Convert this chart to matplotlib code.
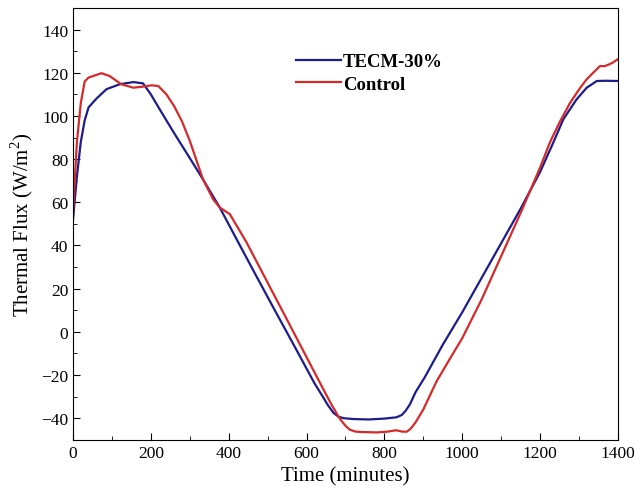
import numpy as np
import matplotlib.pyplot as plt

plt.rcParams['font.family'] = 'Liberation Serif'
plt.rcParams['mathtext.fontset'] = 'custom'
plt.rcParams['mathtext.rm'] = 'Liberation Serif'

# TECM-30% curve
tecm_t = [0, 5, 10, 20, 30, 40, 60, 86, 120, 155, 180, 200, 223, 260, 300, 334, 377,
          420, 472, 520, 570, 621, 640, 655, 669, 682, 695, 720, 760, 800, 831, 845,
          855, 866, 880, 904, 950, 1000, 1050, 1100, 1150, 1200, 1230, 1260, 1294,
          1320, 1346, 1370, 1400]
tecm_q = [52, 62, 72, 88, 98, 104, 108, 112.4, 114.7, 115.7, 115.1, 110, 103, 92,
          80.5, 70.6, 57.6, 43, 25.5, 9.5, -7, -24, -29.5, -34, -37.5, -39.3, -40,
          -40.4, -40.6, -40.2, -39.6, -38.5, -36.5, -33.5, -28, -21, -6, 9, 25, 41,
          57, 74, 86, 98.5, 107.7, 113.1, 116.2, 116.3, 116.2]

# Control curve
ctrl_t = [0, 5, 10, 20, 30, 40, 73, 94, 124, 155, 180, 202, 219, 240, 260, 280, 300,
          320, 334, 360, 377, 403, 446, 500, 550, 600, 640, 665, 686, 700, 711, 725,
          740, 780, 810, 830, 845, 857, 867, 880, 900, 934, 970, 1000, 1050, 1100,
          1150, 1200, 1226, 1250, 1277, 1303, 1320, 1337, 1354, 1367, 1385, 1400]
ctrl_q = [55, 72, 88, 106, 116, 117.8, 119.8, 118.5, 114.7, 113.1, 113.6, 114.2,
          113.9, 110, 104.5, 97.5, 88.5, 78, 70.6, 61.4, 57.6, 54.5, 41.4, 22.8,
          5.6, -11.7, -25.5, -34, -40.4, -43.5, -45.3, -46.2, -46.4, -46.6, -46.2,
          -45.6, -46.2, -46.3, -45, -42, -36, -23, -12, -3, 15, 35, 55, 76, 88, 97,
          106, 113, 117, 120.1, 123.1, 123.1, 124.5, 126.3]

fig = plt.figure(figsize=(6.35, 5.02), dpi=100)
ax = fig.add_axes([0.115, 0.122, 0.858, 0.86])

ax.plot(tecm_t, tecm_q, color='#1c1c8c', lw=1.6, label='TECM-30%')
ax.plot(ctrl_t, ctrl_q, color='#d42a2a', lw=1.6, label='Control')

ax.set_xlim(0, 1400)
ax.set_ylim(-50, 150)
ax.set_xticks(np.arange(0, 1401, 200))
ax.set_xticks(np.arange(100, 1400, 200), minor=True)
ax.set_yticks(np.arange(-40, 141, 20))
ax.set_yticks(np.arange(-50, 151, 20), minor=True)
ax.tick_params(direction='in', which='both', labelsize=12.5)
ax.tick_params(which='major', length=5)
ax.tick_params(which='minor', length=3)
ax.set_yticklabels(['\u221240', '\u221220'] + [str(v) for v in range(0, 141, 20)])

ax.set_xlabel('Time (minutes)', fontsize=15)
ax.set_ylabel('Thermal Flux (W/m$^2$)', fontsize=15)

ax.legend(loc='upper left', bbox_to_anchor=(0.378, 0.935), frameon=False,
          prop={'weight': 'bold', 'size': 13.5}, handlelength=2.4,
          handletextpad=0.1, labelspacing=0.3)

fig.savefig('out.png', dpi=100)
